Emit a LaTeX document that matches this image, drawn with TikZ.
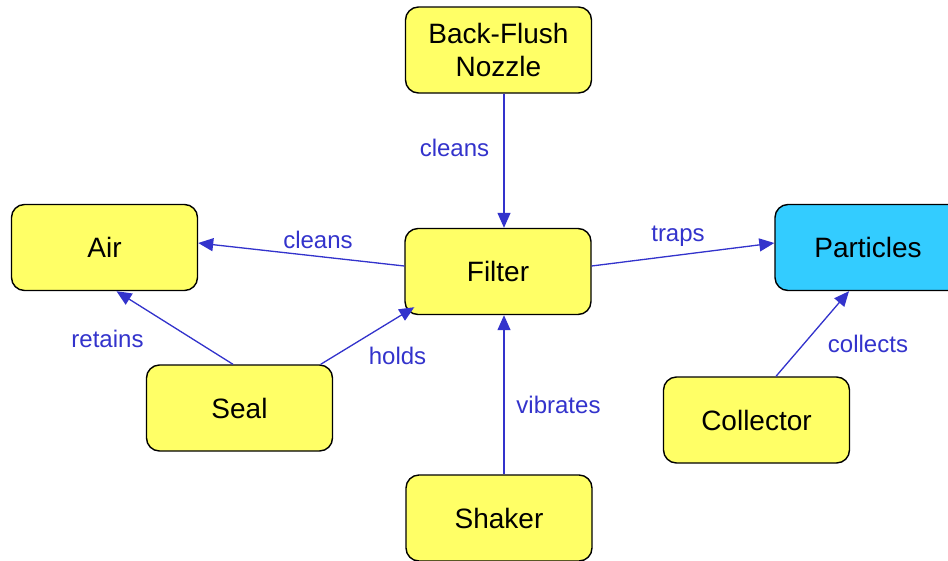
\documentclass[tikz,border=0pt]{standalone}
\usepackage{fontspec}
\setmainfont{Liberation Sans}
\usetikzlibrary{arrows.meta,calc}
\definecolor{boxyellow}{HTML}{FFFF66}
\definecolor{boxcyan}{HTML}{33CCFF}
\definecolor{linkblue}{HTML}{3333CC}
\tikzset{
  concept/.style={draw=black, line width=1.4pt, rounded corners=13pt,
    fill=boxyellow, minimum width=186pt, minimum height=86pt,
    inner sep=0pt, align=center, font=\fontsize{28}{33}\selectfont},
  target/.style={concept, fill=boxcyan},
  link/.style={draw=linkblue, line width=1.3pt,
    -{Triangle[length=15pt,width=13pt]}, fill=linkblue},
  linklabel/.style={text=linkblue, anchor=base, inner sep=0pt,
    font=\fontsize{24}{28}\selectfont}
}
\begin{document}
\begin{tikzpicture}[x=1pt,y=-1pt]
  \clip (0,0) rectangle (948,560);
  \fill[white] (0,0) rectangle (948,560);

  % concept boxes
  \node[concept] (nozzle)    at (498.5,50)   {Back-Flush\\Nozzle};
  \node[concept] (air)       at (104.5,247.5) {Air};
  \node[concept] (filter)    at (498,271.5)  {Filter};
  \node[target]  (particles) at (868,247.5)  {Particles};
  \node[concept] (seal)      at (239.5,408)  {Seal};
  \node[concept] (shaker)    at (499,518)    {Shaker};
  \node[concept] (collector) at (756.5,420)  {Collector};

  % relations
  \draw[link] ($(nozzle.south)+(5.5,0)$) -- ($(filter.north)+(6,0)$);
  \draw[link] ($(filter.west)+(0,-5.5)$) -- ($(air.east)+(0,-4.5)$);
  \draw[link] ($(filter.east)+(0,-5.5)$) -- ($(particles.west)+(0,-4.5)$);
  \draw[link] ($(seal.north)+(-6.5,0)$) -- ($(air.south)+(12,0)$);
  \draw[link] ($(seal.north east)+(-12.5,0)$) -- ($(filter.south west)+(10,-8)$);
  \draw[link] ($(shaker.north)+(5,0)$) -- ($(filter.south)+(6,0)$);
  \draw[link] ($(collector.north)+(19.5,0)$) -- ($(particles.south)+(-19,0)$);

  % relation labels
  \node[linklabel] (lclean1) at (454.5,156) {cleans};
  \node[linklabel] (lclean2) at (318,248)   {cleans};
  \node[linklabel] (ltraps)  at (678,241)   {traps};
  \node[linklabel] (lretain) at (107.5,347) {retains};
  \node[linklabel] (lholds)  at (397.5,364) {holds};
  \node[linklabel] (lvibr)   at (558.5,413) {vibrates};
  \node[linklabel] (lcoll)   at (868,352)   {collects};
\end{tikzpicture}
\end{document}
